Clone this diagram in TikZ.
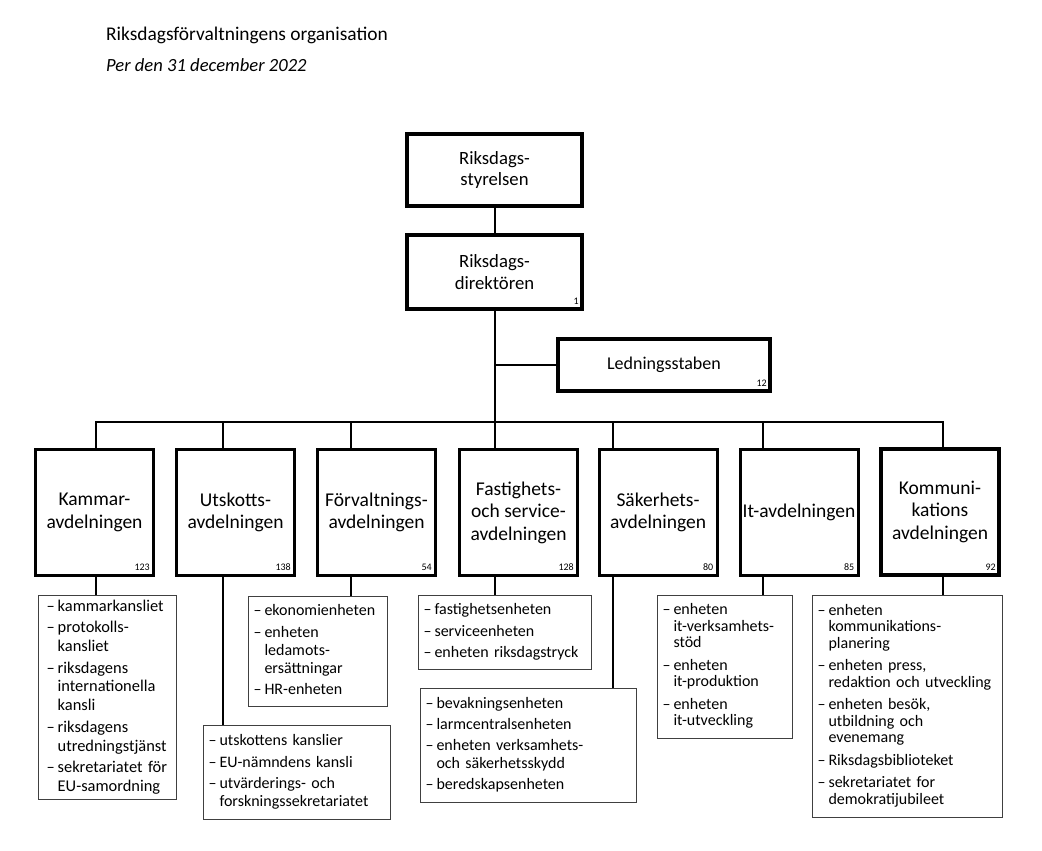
\documentclass[tikz,border=0pt]{standalone}
\usepackage{fontspec}
\setmainfont{Carlito}
\usetikzlibrary{positioning}

\tikzset{
  topbox/.style={draw, line width=4pt, inner sep=0pt, align=center,
    minimum width=175pt, minimum height=72pt, font=\fontsize{18.7}{21.5}\selectfont},
  dept/.style={draw, line width=3pt, inner sep=0pt, align=center,
    minimum width=118pt, minimum height=126pt, font=\fontsize{19.5}{22.5}\selectfont},
  unitlist/.style={draw=black!75, line width=1.1pt, anchor=north west, align=left,
    text width=#1, inner xsep=5pt, inner ysep=0pt, font=\fontsize{16}{18}\selectfont},
  conn/.style={line width=2pt},
  staff/.style={label={[staffno]south east:#1}},
  staffno/.style={anchor=south east, inner sep=0pt, xshift=-5pt, yshift=6pt,
    font=\fontsize{10}{10}\selectfont},
}

\begin{document}
\begin{tikzpicture}[x=1pt,y=-1pt]
\useasboundingbox (0,0) rectangle (1042,851);

% rubrik
\node[anchor=base west, inner sep=0pt, font=\fontsize{19.4}{20}\selectfont] (title) at (106,41) {Riksdagsförvaltningens organisation};
\node[anchor=base west, inner sep=0pt, font=\fontsize{18.6}{20}\selectfont\itshape] (date) at (106,71) {Per den 31 december 2022};

% ledning
\node[topbox] (styr) at (494.5,170) {Riksdags-\\styrelsen};
\node[topbox, minimum height=74pt, staff=1] (dir) at (494.5,272) {Riksdags-\\direktören};
\node[topbox, minimum width=212pt, minimum height=52pt, font=\fontsize{18}{20}\selectfont, staff=12] (led) at (664,365) {Ledningsstaben};

% avdelningar
\node[dept, staff=123] (kam) at (94.5,512.5) {Kammar-\\avdelningen};
\node[dept, staff=138] (uts) at (235.5,512.5) {Utskotts-\\avdelningen};
\node[dept, staff=54] (forv) at (376.5,512.5) {Förvaltnings-\\avdelningen};
\node[dept, staff=128] (fast) at (518.5,512.5) {Fastighets-\\och service-\\avdelningen};
\node[dept, staff=80] (sak) at (658,512.5) {Säkerhets-\\avdelningen};
\node[dept, staff=85] (it) at (799,512.5) {It-avdelningen};
\node[dept, line width=4pt, staff=92] (komm) at (940,511.5) {Kommuni-\\kations\\avdelningen};

% enheter
\node[unitlist=122pt, inner xsep=8pt, minimum height=204pt, font=\fontsize{16.4}{18.7}\selectfont] (kamlist) at (38,595) {%
\begin{tabular}{@{}l@{\hspace{3pt}}l@{}}
– & kammarkansliet\\[3pt]
– & protokolls-\\ & kansliet\\[3pt]
– & riksdagens\\ & internationella\\ & kansli\\[3pt]
– & riksdagens\\ & utredningstjänst\\[3pt]
– & sekretariatet för\\ & EU-samordning
\end{tabular}};
\node[unitlist=129pt, minimum height=110pt] (forvlist) at (248,596) {%
\begin{tabular}{@{}l@{\hspace{3pt}}l@{}}
– & ekonomienheten\\[3.5pt]
– & enheten\\ & ledamots-\\ & ersättningar\\[3.5pt]
– & HR-enheten
\end{tabular}};
\node[unitlist=177pt, minimum height=94pt] (utslist) at (203,725) {%
\begin{tabular}{@{}l@{\hspace{3pt}}l@{}}
– & utskottens kanslier\\[3.5pt]
– & EU-nämndens kansli\\[3.5pt]
– & utvärderings- och\\ & forskningssekretariatet
\end{tabular}};
\node[unitlist=163pt, minimum height=74pt] (fastlist) at (418,595) {%
\begin{tabular}{@{}l@{\hspace{3pt}}l@{}}
– & fastighetsenheten\\[3.5pt]
– & serviceenheten\\[3.5pt]
– & enheten riksdagstryck
\end{tabular}};
\node[unitlist=206pt, minimum height=114pt] (saklist) at (420,688) {%
\begin{tabular}{@{}l@{\hspace{3pt}}l@{}}
– & bevakningsenheten\\[3pt]
– & larmcentralsenheten\\[3pt]
– & enheten verksamhets-\\ & och säkerhetsskydd\\[3pt]
– & beredskapsenheten
\end{tabular}};
\node[unitlist=125pt, minimum height=143pt, font=\fontsize{16}{16.5}\selectfont] (itlist) at (657,595) {%
\begin{tabular}{@{}l@{\hspace{3pt}}l@{}}
– & enheten\\ & it-verksamhets-\\ & stöd\\[6pt]
– & enheten\\ & it-produktion\\[6pt]
– & enheten\\ & it-utveckling
\end{tabular}};
\node[unitlist=180pt, minimum height=222pt, font=\fontsize{16}{16.5}\selectfont] (kommlist) at (812,595) {%
\begin{tabular}{@{}l@{\hspace{3pt}}l@{}}
– & enheten\\ & kommunikations-\\ & planering\\[6pt]
– & enheten press,\\ & redaktion och utveckling\\[6pt]
– & enheten besök,\\ & utbildning och\\ & evenemang\\[6pt]
– & Riksdagsbiblioteket\\[6pt]
– & sekretariatet for\\ & demokratijubileet
\end{tabular}};

% linjer
\coordinate (trunk) at (dir.south |- 0,422);
\draw[conn] (styr) -- (dir);
\draw[conn] (dir) -- (trunk);
\draw[conn] (dir.south |- led.west) -- (led.west);
\foreach \n/\x in {kam/96, uts/223, forv/351, fast/495, sak/613, it/763, komm/943}{
  \coordinate (d\n) at (\x,422);
  \draw[conn] (d\n |- \n.south) -- (d\n |- \n list.north);
}
\draw[conn] (dkam |- kam.north) -- (dkam) -- (dkomm) -- (dkomm |- komm.north);
\foreach \n in {uts, forv, fast, sak, it}
  \draw[conn] (d\n) -- (d\n |- \n.north);
\end{tikzpicture}
\end{document}
